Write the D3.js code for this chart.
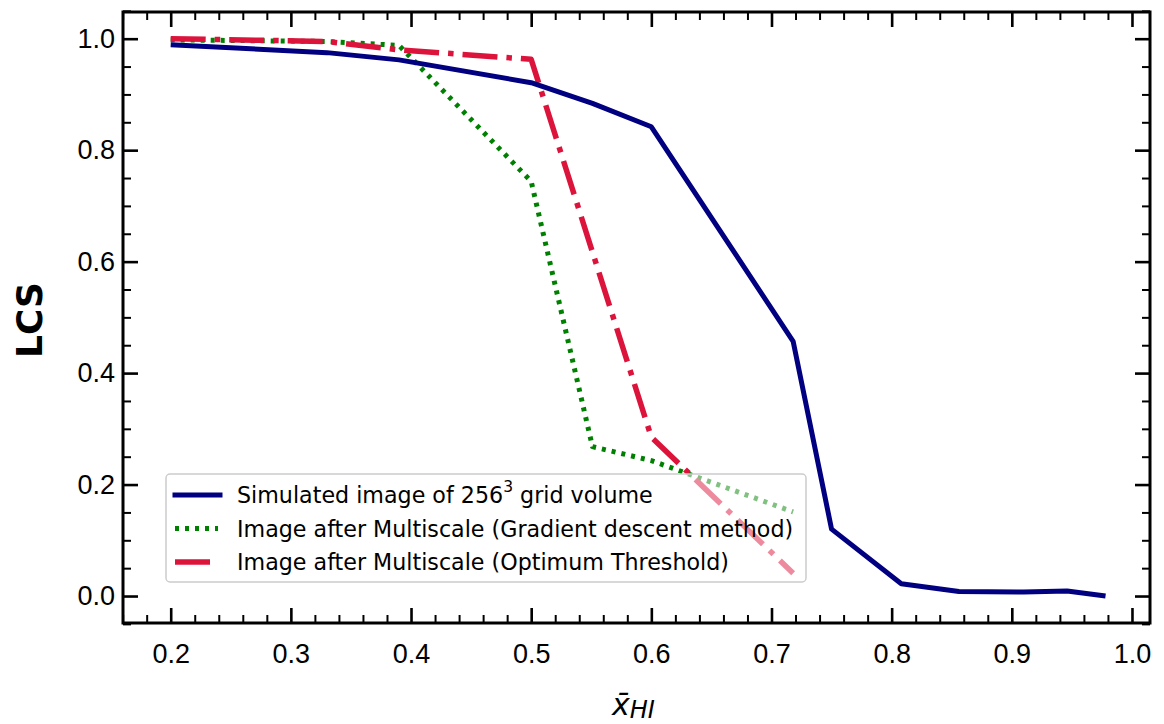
<!DOCTYPE html>
<html>
<head>
<meta charset="utf-8">
<script src="https://cdn.jsdelivr.net/npm/d3@7"></script>
<style>
  body { margin: 0; background: #fff; }
  svg { display: block; font-family: "DejaVu Sans", sans-serif; }
</style>
</head>
<body>
<div id="chart"></div>
<script>
// data
var xSim = [0.2, 0.33, 0.39, 0.5, 0.551, 0.6, 0.718, 0.75, 0.808, 0.856, 0.91, 0.946, 0.978],
    lcsSim = [0.989, 0.975, 0.962, 0.921, 0.884, 0.842, 0.457, 0.12, 0.022, 0.008, 0.007, 0.009, 0.0];
var xGrad = [0.2, 0.33, 0.39, 0.5, 0.551, 0.6, 0.718],
    lcsGrad = [0.998, 0.995, 0.988, 0.744, 0.268, 0.243, 0.151];
var xOpt = [0.2, 0.33, 0.39, 0.5, 0.6, 0.718],
    lcsOpt = [1.0, 0.995, 0.98, 0.963, 0.285, 0.041];
var legendLabels = [
    "Simulated image of 256",
    "Image after Multiscale (Gradient descent method)",
    "Image after Multiscale (Optimum Threshold)"
];
var xTicks = [0.2, 0.3, 0.4, 0.5, 0.6, 0.7, 0.8, 0.9, 1.0],
    yTicks = [0.0, 0.2, 0.4, 0.6, 0.8, 1.0];

var W = 1164, H = 724,
    margin = { top: 12, right: 14, bottom: 101, left: 123 },
    width = W - margin.left - margin.right,
    height = H - margin.top - margin.bottom;

var svg = d3.select("#chart").append("svg")
    .attr("width", W)
    .attr("height", H);

var g = svg.append("g")
    .attr("transform", "translate(" + margin.left + "," + margin.top + ")");

var x = d3.scaleLinear().domain([0.1603, 1.015]).range([0, width]);
var y = d3.scaleLinear().domain([-0.0484, 1.0479]).range([height, 0]);

var xMinor = d3.range(0.16, 1.02, 0.02).filter(function(v) { return Math.abs(v * 10 - Math.round(v * 10)) > 1e-6; }),
    yMinor = d3.range(-0.05, 1.06, 0.05).filter(function(v) { return Math.abs(v * 5 - Math.round(v * 5)) > 1e-6; });

function styleAxis(sel, major) {
    sel.select(".domain").remove();
    sel.selectAll(".tick line").attr("stroke", "#000").attr("stroke-width", major ? 2.6 : 2);
    sel.selectAll(".tick text").attr("fill", "#000").attr("font-size", 27);
}

// bottom
g.append("g").attr("transform", "translate(0," + height + ")")
    .call(d3.axisBottom(x).tickValues(xMinor).tickSize(-8).tickFormat(""))
    .call(styleAxis, false);
g.append("g").attr("transform", "translate(0," + height + ")")
    .call(d3.axisBottom(x).tickValues(xTicks).tickSize(-15).tickPadding(21).tickFormat(d3.format(".1f")))
    .call(styleAxis, true);
// top
g.append("g")
    .call(d3.axisTop(x).tickValues(xMinor).tickSize(-8).tickFormat(""))
    .call(styleAxis, false);
g.append("g")
    .call(d3.axisTop(x).tickValues(xTicks).tickSize(-15).tickFormat(""))
    .call(styleAxis, true);
// left
g.append("g")
    .call(d3.axisLeft(y).tickValues(yMinor).tickSize(-8).tickFormat(""))
    .call(styleAxis, false);
g.append("g")
    .call(d3.axisLeft(y).tickValues(yTicks).tickSize(-15).tickPadding(8).tickFormat(d3.format(".1f")))
    .call(styleAxis, true);
// right
g.append("g").attr("transform", "translate(" + width + ",0)")
    .call(d3.axisRight(y).tickValues(yMinor).tickSize(-8).tickFormat(""))
    .call(styleAxis, false);
g.append("g").attr("transform", "translate(" + width + ",0)")
    .call(d3.axisRight(y).tickValues(yTicks).tickSize(-15).tickFormat(""))
    .call(styleAxis, true);

// lines
var line = d3.line()
    .x(function(d) { return x(d[0]); })
    .y(function(d) { return y(d[1]); });

var series = [
    { xs: xGrad, ys: lcsGrad, color: "green", dash: "4,6", width: 5 },
    { xs: xOpt, ys: lcsOpt, color: "crimson", dash: "35,9,5.5,9", width: 5.5 },
    { xs: xSim, ys: lcsSim, color: "navy", dash: null, width: 5 }
];

g.selectAll(".series")
    .data(series)
    .enter().append("path")
        .attr("class", "series")
        .attr("fill", "none")
        .attr("stroke", function(d) { return d.color; })
        .attr("stroke-width", function(d) { return d.width; })
        .attr("stroke-dasharray", function(d) { return d.dash; })
        .attr("stroke-linejoin", "round")
        .attr("d", function(d) { return line(d3.zip(d.xs, d.ys)); });

// frame
g.append("rect")
    .attr("width", width).attr("height", height)
    .attr("fill", "none").attr("stroke", "#000").attr("stroke-width", 3);

// legend
var legend = g.append("g").attr("transform", "translate(" + (166 - margin.left) + "," + (474 - margin.top) + ")");
legend.append("rect")
    .attr("width", 640).attr("height", 108).attr("rx", 4)
    .attr("fill", "#fff").attr("fill-opacity", 0.5)
    .attr("stroke", "#ccc").attr("stroke-width", 1.5);

var legendOrder = [series[2], series[0], series[1]];
var rows = legend.selectAll(".row")
    .data(legendOrder)
    .enter().append("g")
        .attr("class", "row")
        .attr("transform", function(d, i) { return "translate(0," + (21 + i * 33.5) + ")"; });
rows.append("line")
    .attr("x1", 9).attr("x2", function(d) { return d.dash ? 52 : 54; })
    .attr("stroke", function(d) { return d.color; })
    .attr("stroke-width", function(d) { return d.width; })
    .attr("stroke-linecap", function(d) { return d.dash ? "butt" : "square"; })
    .attr("stroke-dasharray", function(d) { return d.dash; });
rows.append("text")
    .attr("x", 71).attr("dy", "0.36em")
    .attr("font-size", 22.2)
    .each(function(d, i) {
        var t = d3.select(this);
        t.append("tspan").text(legendLabels[i]);
        if (i === 0) {
            t.append("tspan").attr("font-size", 15.5).attr("dy", "-0.72em").text("3");
            t.append("tspan").attr("dy", "0.5em").text(" grid volume");
        }
    });

// axis labels
svg.append("text")
    .attr("transform", "translate(42,320) rotate(-90)")
    .attr("text-anchor", "middle")
    .attr("font-size", 36)
    .attr("font-weight", "bold")
    .text("LCS");

var xl = svg.append("text")
    .attr("x", 612).attr("y", 715)
    .attr("font-size", 30)
    .attr("font-style", "italic");
xl.append("tspan").text("x\u0304");
xl.append("tspan").attr("font-size", 24).attr("dy", 3).text("HI");
</script>
</body>
</html>
